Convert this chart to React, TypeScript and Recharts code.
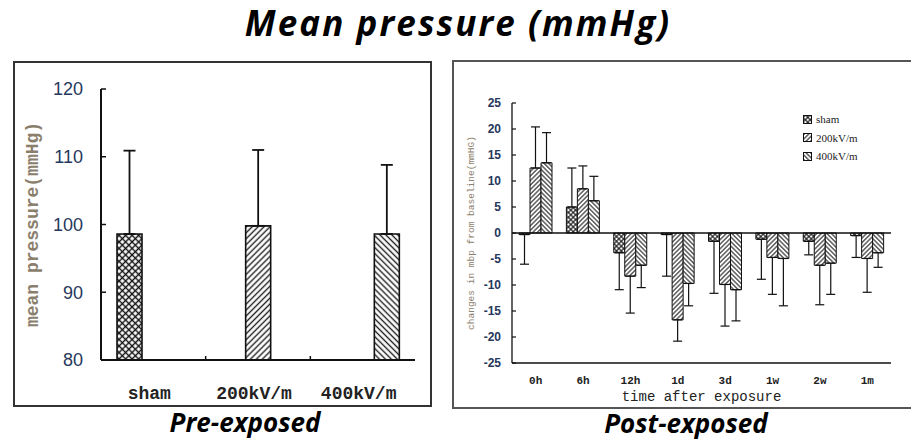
import React from 'react';
import { BarChart, Bar, XAxis, YAxis, ErrorBar, ReferenceLine, Legend } from 'recharts';

// ---------- data ----------
const seriesNames = ['sham', '200kV/m', '400kV/m'];

const preCategories = ['sham', '200kV/m', '400kV/m'];
const preMeans = [98.6, 99.8, 98.6];
const preSD = [12.3, 11.2, 10.2];
const preTicks = [80, 90, 100, 110, 120];

const postTimes = ['0h', '6h', '12h', '1d', '3d', '1w', '2w', '1m'];
const shamChange = [-0.3, 5.0, -3.8, -0.3, -1.6, -1.2, -1.6, -0.5];
const kv200Change = [12.5, 8.5, -8.3, -16.7, -9.9, -4.7, -6.2, -4.9];
const kv400Change = [13.5, 6.2, -6.2, -9.7, -10.9, -4.9, -5.8, -3.8];
const shamErr = [5.7, 7.5, 7.1, 8.0, 10.0, 7.7, 2.6, 4.2];
const kv200Err = [7.9, 4.4, 7.1, 4.1, 8.0, 7.1, 7.6, 6.5];
const kv400Err = [5.8, 4.7, 4.3, 4.3, 6.0, 9.1, 6.0, 2.8];
const postTicks = [-25, -20, -15, -10, -5, 0, 5, 10, 15, 20, 25];

// ---------- derived tables ----------
const preData = preCategories.map((name, i) => {
  const row: any = { name };
  [0, 1, 2].forEach((k) => {
    row['s' + k] = k === i ? preMeans[i] : null;
    row['e' + k] = k === i ? [0, preSD[i]] : null;
  });
  return row;
});

const oneSided = (v: number, e: number) => (v >= 0 ? [0, e] : [e, 0]);
const postData = postTimes.map((name, i) => ({
  name,
  s0: shamChange[i],
  s1: kv200Change[i],
  s2: kv400Change[i],
  e0: oneSided(shamChange[i], shamErr[i]),
  e1: oneSided(kv200Change[i], kv200Err[i]),
  e2: oneSided(kv400Change[i], kv400Err[i]),
}));

// ---------- patterns ----------
const patterns = (prefix: string, gap: number, sw: number, crossGap: number) => (
  <defs>
    <pattern id={`${prefix}-p0`} patternUnits="userSpaceOnUse" width={crossGap} height={crossGap} patternTransform="rotate(45)">
      <rect width={crossGap} height={crossGap} fill="#fff" />
      <line x1={crossGap / 2} y1={0} x2={crossGap / 2} y2={crossGap} stroke="#111" strokeWidth={sw} />
      <line x1={0} y1={crossGap / 2} x2={crossGap} y2={crossGap / 2} stroke="#111" strokeWidth={sw} />
    </pattern>
    <pattern id={`${prefix}-p1`} patternUnits="userSpaceOnUse" width={gap} height={gap} patternTransform="rotate(45)">
      <rect width={gap} height={gap} fill="#fff" />
      <line x1={gap / 2} y1={0} x2={gap / 2} y2={gap} stroke="#222" strokeWidth={sw} />
    </pattern>
    <pattern id={`${prefix}-p2`} patternUnits="userSpaceOnUse" width={gap} height={gap} patternTransform="rotate(-45)">
      <rect width={gap} height={gap} fill="#fff" />
      <line x1={gap / 2} y1={0} x2={gap / 2} y2={gap} stroke="#222" strokeWidth={sw} />
    </pattern>
  </defs>
);

const tickBlue = '#26385c';
const labelBrown = '#8a7e6c';
const PRE_TICK_MARGIN = 26;

// category label + small boundary tick mark on the axis (between categories)
const PreTick = (props: any) => {
  const { x, y, payload, index, visibleTicksCount } = props;
  const axisY = y - PRE_TICK_MARGIN;
  const half = payload && payload.offset ? payload.offset : 0;
  const last = visibleTicksCount ? index >= visibleTicksCount - 1 : index >= preCategories.length - 1;
  return (
    <g>
      {!last && half > 0 && (
        <line x1={x + half} x2={x + half} y1={axisY} y2={axisY - 4} stroke="#111" strokeWidth={1.5} />
      )}
      <text x={x - 4} y={y} dy="0.71em" textAnchor="middle" fill="#222" fontSize={18} fontFamily="Liberation Mono" fontWeight="bold">
        {payload.value}
      </text>
    </g>
  );
};

const renderLegend = (props: any) => {
  const { payload } = props;
  return (
    <div style={{ fontFamily: 'Liberation Serif', fontSize: 11, color: '#222' }}>
      {(payload || []).map((p: any) => (
        <div key={p.value} style={{ display: 'flex', alignItems: 'center', height: 18.5 }}>
          <svg width={9} height={9} style={{ marginRight: 4 }}>
            <rect x={0.5} y={0.5} width={8} height={8} fill={p.color} stroke="#111" strokeWidth={1} />
          </svg>
          <span>{p.value}</span>
        </div>
      ))}
    </div>
  );
};

const captionStyle: React.CSSProperties = {
  position: 'absolute', width: 300, height: 26, textAlign: 'center', fontFamily: 'Open Sans', fontWeight: 'bold',
  fontStyle: 'italic', fontSize: 26, lineHeight: '26px', color: '#000', whiteSpace: 'nowrap',
};

export default function App() {
  return (
    <div style={{ position: 'absolute', left: 0, top: 0, width: 911, height: 441, background: '#fff', overflow: 'hidden' }}>
      {/* Title */}
      <div style={{ position: 'absolute', left: 0, top: 3, width: 916, textAlign: 'center', fontFamily: 'Open Sans', fontWeight: 'bold', fontStyle: 'italic', fontSize: 35, letterSpacing: 2.1, lineHeight: '40px', color: '#000' }}>
        Mean pressure (mmHg)
      </div>

      {/* panel borders */}
      <div style={{ position: 'absolute', left: 13, top: 61, width: 419, height: 346, border: '2px solid #333', boxSizing: 'border-box' }} />
      <div style={{ position: 'absolute', left: 452, top: 60, width: 480, height: 349, border: '2px solid #555', boxSizing: 'border-box' }} />

      {/* Left: pre-exposed */}
      <div style={{ position: 'absolute', left: 15, top: 63 }}>
        <BarChart width={415} height={342} data={preData} margin={{ top: 26, right: 15, left: 6, bottom: 0 }} barSize={25} barGap={-1}>
          {patterns('pre', 4.2, 1.4, 4.6)}
          <XAxis xAxisId="cat" dataKey="name" interval={0} tickLine={false} axisLine={{ stroke: '#111', strokeWidth: 2 }} tickSize={0} tickMargin={PRE_TICK_MARGIN} height={45}
            tick={<PreTick />} />
          <XAxis xAxisId="top" orientation="top" dataKey="name" height={0} tick={false} tickLine={false} axisLine={{ stroke: '#999', strokeWidth: 1.5 }} />
          <YAxis yAxisId="l" width={80} type="number" domain={[80, 120]} ticks={preTicks} interval={0} tickSize={-5} tickMargin={23}
            axisLine={{ stroke: '#111', strokeWidth: 2 }} tickLine={{ stroke: '#111', strokeWidth: 1.5 }}
            tick={{ fill: tickBlue, fontSize: 18, fontFamily: 'Liberation Sans' }}
            label={{ value: 'mean pressure(mmHg)', angle: -90, position: 'insideLeft', offset: 11, style: { textAnchor: 'middle', fill: labelBrown, fontSize: 18, fontFamily: 'Liberation Mono', fontWeight: 'bold' } }} />
          <YAxis yAxisId="r" orientation="right" width={0} type="number" domain={[80, 120]} tick={false} tickLine={false} axisLine={{ stroke: '#999', strokeWidth: 1.5 }} />
          {[0, 1, 2].map((k) => (
            <Bar key={k} xAxisId="cat" yAxisId="l" dataKey={'s' + k} name={seriesNames[k]} fill={`url(#pre-p${k})`} stroke="#111" strokeWidth={1.6} isAnimationActive={false}>
              <ErrorBar dataKey={'e' + k} width={6} stroke="#111" strokeWidth={1.8} direction="y" />
            </Bar>
          ))}
        </BarChart>
      </div>

      {/* Right: post-exposed */}
      <div style={{ position: 'absolute', left: 453, top: 61 }}>
        <BarChart width={458} height={347} data={postData} margin={{ top: 42, right: 20, left: 4, bottom: 3 }} barSize={11} barGap={0}>
          {patterns('post', 3.2, 1.1, 3.4)}
          <XAxis dataKey="name" interval={0} tickLine={false} axisLine={{ stroke: '#111', strokeWidth: 1.3 }} tickSize={0} tickMargin={13} height={42}
            tick={{ fill: '#222', fontSize: 11, fontFamily: 'Liberation Mono', fontWeight: 'bold' }}
            label={{ value: 'time after exposure', position: 'insideBottom', offset: 4, style: { fill: '#222', fontSize: 14, fontFamily: 'Liberation Mono' } }} />
          <XAxis xAxisId="top" orientation="top" dataKey="name" height={0} tick={false} tickLine={false} axisLine={{ stroke: '#999', strokeWidth: 1.3 }} />
          <YAxis width={55} type="number" domain={[-25, 25]} ticks={postTicks} interval={0} tickSize={-4} tickMargin={15}
            axisLine={{ stroke: '#111', strokeWidth: 1.3 }} tickLine={{ stroke: '#111', strokeWidth: 1.2 }}
            tick={{ fill: tickBlue, fontSize: 12, fontFamily: 'Liberation Sans', fontWeight: 'bold' }}
            label={{ value: 'changes in mbp from baseline(mmHG)', angle: -90, position: 'insideLeft', offset: 14, style: { textAnchor: 'middle', fill: labelBrown, fontSize: 9.5, fontFamily: 'Liberation Mono' } }} />
          <YAxis yAxisId="r" orientation="right" width={0} type="number" domain={[-25, 25]} tick={false} tickLine={false} axisLine={{ stroke: '#999', strokeWidth: 1.3 }} />
          <ReferenceLine y={0} stroke="#111" strokeWidth={1.3} />
          <Legend layout="vertical" align="center" verticalAlign="middle" itemSorter="dataKey" wrapperStyle={{ top: 49, left: 350, width: 'auto' }} content={renderLegend} />
          {[0, 1, 2].map((k) => (
            <Bar key={k} dataKey={'s' + k} name={seriesNames[k]} fill={`url(#post-p${k})`} stroke="#111" strokeWidth={1} isAnimationActive={false}>
              <ErrorBar dataKey={'e' + k} width={4.5} stroke="#111" strokeWidth={1.2} direction="y" />
            </Bar>
          ))}
        </BarChart>
      </div>

      {/* captions */}
      <div style={{ ...captionStyle, left: 95, top: 409 }}>Pre-exposed</div>
      <div style={{ ...captionStyle, left: 536, top: 410 }}>Post-exposed</div>
    </div>
  );
}
